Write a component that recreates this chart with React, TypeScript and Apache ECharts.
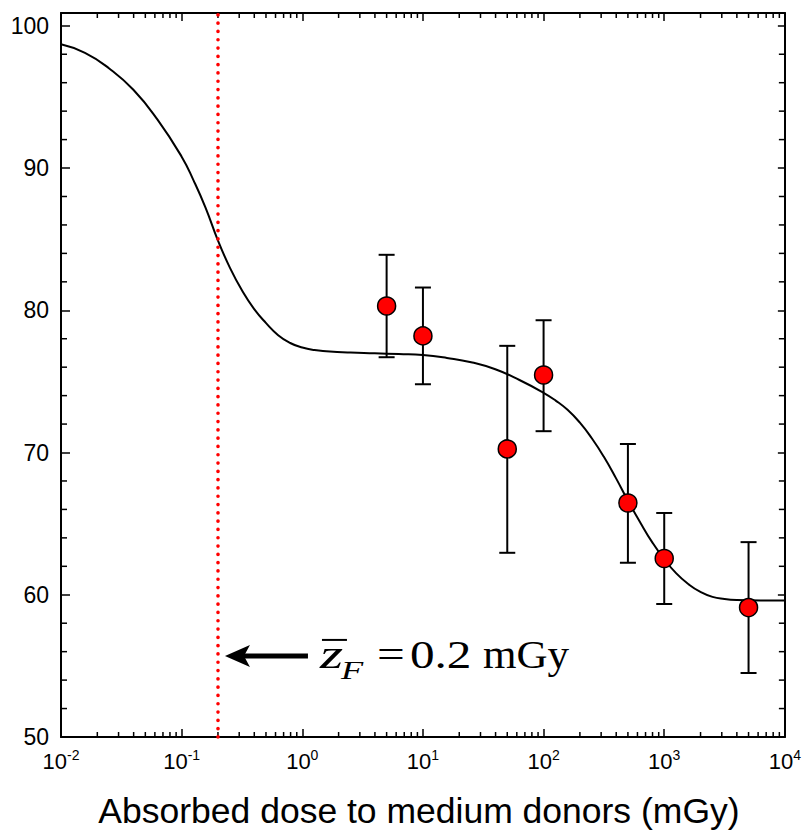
import { useEffect, useRef } from "react";
import * as echarts from "echarts";

// Measured data points (dose in mGy, survival %)
const doses = [5, 10, 50, 100, 500, 1000, 5000];
const meanValues = [80.3, 78.2, 70.25, 75.45, 66.45, 62.55, 59.1];
const lowerValues = [76.7, 74.8, 62.95, 71.5, 62.25, 59.35, 54.5];
const upperValues = [83.9, 81.6, 77.5, 79.3, 70.6, 65.75, 63.7];

// Fitted curve
const fitDoses = [
  0.01, 0.0158, 0.0251, 0.0398, 0.0631, 0.1, 0.126, 0.158, 0.2, 0.251,
  0.316, 0.398, 0.501, 0.631, 0.794, 1, 1.26, 1.58, 2.51, 3.98,
  6.31, 10, 15.8, 25.1, 39.8, 63.1, 100, 126, 158, 200,
  251, 316, 398, 501, 631, 794, 1000, 1259, 1585, 1995,
  2512, 3162, 3981, 6310, 10000,
];
const fitValues = [
  98.7, 98.1, 97.0, 95.5, 93.4, 90.8, 89.1, 87.2, 84.9, 83.0,
  81.4, 80.1, 79.1, 78.25, 77.7, 77.38, 77.2, 77.12, 77.03, 76.98,
  76.92, 76.85, 76.65, 76.35, 75.85, 75.1, 74.2, 73.65, 73.0, 72.1,
  71.0, 69.7, 68.2, 66.6, 65.1, 63.7, 62.5, 61.5, 60.75, 60.2,
  59.85, 59.7, 59.63, 59.6, 59.6,
];

const zFDose = 0.2;
const annotLevel = 55.7;

const xMin = 0.01;
const xMax = 10000;
const yMin = 50;
const yMax = 100.9;
const yMajorTicks = [50, 60, 70, 80, 90, 100];

const xMinorTicks: number[] = [];
for (let e = -2; e < 4; e++) {
  for (let k = 2; k <= 9; k++) xMinorTicks.push(Number((k * Math.pow(10, e)).toPrecision(3)));
}
const yMinorTicks: number[] = [];
for (let v = 52; v < 100; v += 2) if (v % 10 !== 0) yMinorTicks.push(v);

const SANS = "Liberation Sans, Arial, sans-serif";
const SERIF = "Liberation Serif, Times New Roman, serif";

export default function App() {
  const ref = useRef<HTMLDivElement>(null);
  useEffect(() => {
    if (!ref.current) return;
    const chart = echarts.init(ref.current, null, { renderer: "svg" });
    const xLabel = (v: number) => {
      const e = Math.round(Math.log10(v));
      return `{b|10}{s|${e}}`;
    };
    const option: any = {
      animation: false,
      backgroundColor: "#fff",
      grid: { left: 61, right: 18, top: 13, bottom: 97 },
      xAxis: [
        {
          type: "log",
          logBase: 10,
          min: xMin,
          max: xMax,
          position: "bottom",
          splitLine: { show: false },
          axisLine: { lineStyle: { color: "#000", width: 2 } },
          axisTick: { inside: true, length: 8, lineStyle: { color: "#000", width: 1.5 } },
          axisLabel: {
            margin: 11,
            formatter: xLabel,
            rich: {
              b: { fontSize: 22, fontFamily: SANS, color: "#000", lineHeight: 26 },
              s: { fontSize: 14, fontFamily: SANS, color: "#000", lineHeight: 20, verticalAlign: "top" },
            },
          },
          name: "Absorbed dose to medium donors (mGy)",
          nameLocation: "middle",
          nameGap: 56,
          nameTextStyle: { fontSize: 35.5, fontFamily: SANS, color: "#000", padding: [0, 8, 0, 0] },
        },
        {
          type: "log",
          logBase: 10,
          min: xMin,
          max: xMax,
          position: "top",
          splitLine: { show: false },
          axisLine: { lineStyle: { color: "#000", width: 2 } },
          axisTick: { inside: true, length: 8, lineStyle: { color: "#000", width: 1.5 } },
          axisLabel: { show: false },
        },
      ],
      yAxis: [
        {
          type: "value",
          min: yMin,
          max: yMax,
          interval: 10,
          position: "left",
          splitLine: { show: false },
          axisLine: { show: true, lineStyle: { color: "#000", width: 2 } },
          axisTick: { inside: true, length: 9, lineStyle: { color: "#000", width: 1.5 } },
          axisLabel: {
            margin: 12,
            fontSize: 23,
            fontFamily: SANS,
            color: "#000",
            formatter: (v: number) => (yMajorTicks.includes(v) ? String(v) : ""),
          },
        },
        {
          type: "value",
          min: yMin,
          max: yMax,
          interval: 10,
          position: "right",
          splitLine: { show: false },
          axisLine: { show: true, lineStyle: { color: "#000", width: 2 } },
          axisTick: { inside: true, length: 7, lineStyle: { color: "#000", width: 1.5 } },
          axisLabel: { show: false },
        },
      ],
      series: [
        {
          type: "custom",
          name: "xMinor",
          silent: true,
          clip: false,
          data: xMinorTicks.map((v) => [v, yMin]),
          encode: { x: 0, y: 1 },
          renderItem: (params: any, api: any) => {
            const p = api.coord([api.value(0), yMin]);
            const cs = params.coordSys;
            const style = { stroke: "#000", lineWidth: 1.5 };
            return {
              type: "group",
              children: [
                { type: "line", shape: { x1: p[0], y1: cs.y + cs.height, x2: p[0], y2: cs.y + cs.height - 5 }, style },
                { type: "line", shape: { x1: p[0], y1: cs.y, x2: p[0], y2: cs.y + 5 }, style },
              ],
            };
          },
        },
        {
          type: "custom",
          name: "yMinor",
          silent: true,
          clip: false,
          data: yMinorTicks.map((v) => [1, v]),
          encode: { x: 0, y: 1 },
          renderItem: (params: any, api: any) => {
            const p = api.coord([1, api.value(1)]);
            const cs = params.coordSys;
            const style = { stroke: "#000", lineWidth: 1.5 };
            return {
              type: "group",
              children: [
                { type: "line", shape: { x1: cs.x, y1: p[1], x2: cs.x + 6, y2: p[1] }, style },
                { type: "line", shape: { x1: cs.x + cs.width, y1: p[1], x2: cs.x + cs.width - 6, y2: p[1] }, style },
              ],
            };
          },
        },
        {
          type: "line",
          name: "fit",
          data: fitDoses.map((d, i) => [d, fitValues[i]]),
          smooth: 0.5,
          showSymbol: false,
          symbol: "none",
          lineStyle: { color: "#000", width: 2 },
          z: 3,
        },
        {
          type: "custom",
          name: "errors",
          data: doses.map((d, i) => [d, lowerValues[i], upperValues[i]]),
          encode: { x: 0, y: [1, 2] },
          z: 4,
          renderItem: (_params: any, api: any) => {
            const x = api.value(0);
            const lo = api.coord([x, api.value(1)]);
            const hi = api.coord([x, api.value(2)]);
            const w = 8;
            const style = { stroke: "#000", lineWidth: 2 };
            return {
              type: "group",
              children: [
                { type: "line", shape: { x1: lo[0], y1: lo[1], x2: hi[0], y2: hi[1] }, style },
                { type: "line", shape: { x1: lo[0] - w, y1: lo[1], x2: lo[0] + w, y2: lo[1] }, style },
                { type: "line", shape: { x1: hi[0] - w, y1: hi[1], x2: hi[0] + w, y2: hi[1] }, style },
              ],
            };
          },
        },
        {
          type: "scatter",
          name: "data",
          data: doses.map((d, i) => [d, meanValues[i]]),
          symbol: "circle",
          symbolSize: 18,
          itemStyle: { color: "#ff0000", borderColor: "#000", borderWidth: 1.5, opacity: 1 },
          z: 5,
        },
        {
          type: "line",
          name: "zF",
          data: [],
          z: 6,
          markLine: {
            silent: true,
            symbol: ["none", "none"],
            label: { show: false },
            lineStyle: { color: "#ff0000", width: 3.6, type: [0.1, 8.2], cap: "round" },
            data: [{ xAxis: zFDose }],
          },
        },
      ],
    };
    chart.setOption(option);

    const tip = chart.convertToPixel({ xAxisIndex: 0, yAxisIndex: 0 }, [zFDose, annotLevel]) as number[];
    const tx = tip[0] + 7;
    const ty = tip[1];
    const base = ty + 12; // text baseline
    const mid = (size: number) => base - 0.3375 * size;
    chart.setOption({
      graphic: [
        {
          type: "polygon",
          shape: { points: [[tx, ty], [tx + 25, ty - 11], [tx + 19, ty], [tx + 25, ty + 11]] },
          style: { fill: "#000" },
          z: 10,
        },
        {
          type: "line",
          shape: { x1: tx + 18, y1: ty, x2: tx + 83, y2: ty },
          style: { stroke: "#000", lineWidth: 5 },
          z: 10,
        },
        {
          type: "line",
          shape: { x1: tx + 97, y1: ty - 16, x2: tx + 122, y2: ty - 16 },
          style: { stroke: "#000", lineWidth: 2 },
          z: 10,
        },
        {
          type: "text",
          x: tx + 95,
          y: mid(41),
          scaleX: 1.45,
          style: { text: "z", font: `italic 41px ${SERIF}`, fill: "#000", textAlign: "left", textVerticalAlign: "middle" },
          z: 10,
        },
        {
          type: "text",
          x: tx + 116,
          y: base + 11 - 0.3375 * 26,
          scaleX: 1.4,
          style: { text: "F", font: `italic 26px ${SERIF}`, fill: "#000", textAlign: "left", textVerticalAlign: "middle" },
          z: 10,
        },
        {
          type: "text",
          x: tx + 152,
          y: mid(41),
          scaleX: 1.2,
          style: { text: "=", font: `41px ${SERIF}`, fill: "#000", textAlign: "left", textVerticalAlign: "middle" },
          z: 10,
        },
        {
          type: "text",
          x: tx + 185,
          y: mid(41),
          scaleX: 1.2,
          style: { text: "0.2", font: `41px ${SERIF}`, fill: "#000", textAlign: "left", textVerticalAlign: "middle" },
          z: 10,
        },
        {
          type: "text",
          x: tx + 258,
          y: mid(41),
          scaleX: 1.05,
          style: { text: "mGy", font: `41px ${SERIF}`, fill: "#000", textAlign: "left", textVerticalAlign: "middle" },
          z: 10,
        },
      ],
    });

    return () => chart.dispose();
  }, []);
  return (
    <div
      ref={ref}
      style={{ position: "fixed", left: 0, top: 0, width: 804, height: 834, background: "#fff" }}
    />
  );
}
